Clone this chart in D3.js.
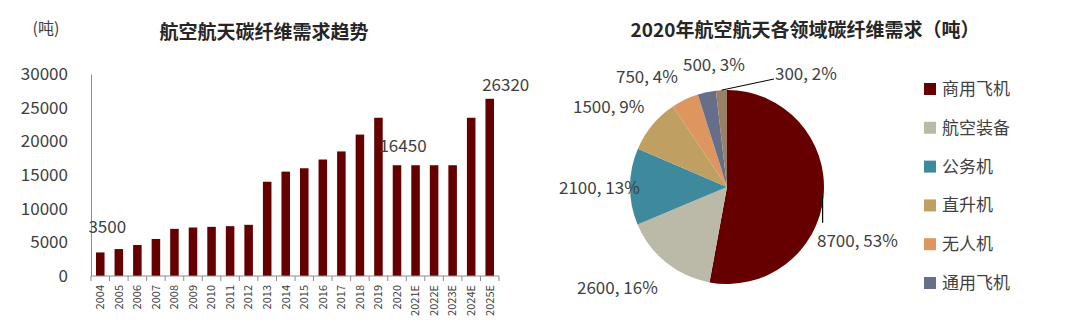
<!DOCTYPE html>
<html>
<head>
<meta charset="utf-8">
<script src="https://cdn.jsdelivr.net/npm/d3@7/dist/d3.min.js"></script>
<style>
  html, body { margin: 0; padding: 0; background: #fff; }
  svg { display: block; font-family: "Noto Sans CJK SC", "Noto Sans", sans-serif; }
</style>
</head>
<body>
<svg id="chart" width="1080" height="335"></svg>
<script>
// ---- Bar chart data: aerospace carbon-fibre demand (tonnes) ----
const years = ["2004","2005","2006","2007","2008","2009","2010","2011","2012","2013","2014",
               "2015","2016","2017","2018","2019","2020","2021E","2022E","2023E","2024E","2025E"];
const demand = [3500, 4000, 4600, 5500, 7000, 7200, 7300, 7400, 7600, 14000, 15500,
                16000, 17300, 18500, 21000, 23500, 16450, 16450, 16450, 16450, 23500, 26320];
const yTicks = [0, 5000, 10000, 15000, 20000, 25000, 30000];
const labelledYears = ["2004", "2020", "2025E"];

// ---- Pie chart data: 2020 demand by segment (tonnes) ----
const segments = ["商用飞机", "航空装备", "公务机", "直升机", "无人机", "通用飞机", "其他"];
const segmentValues = [8700, 2600, 2100, 1500, 750, 500, 300];
const segmentShares = [53, 16, 13, 9, 4, 3, 2];
const segmentColors = ["#660000", "#bbbaa8", "#3e8a9c", "#c0a062", "#dd9660", "#666e8a", "#9b8068"];
const legendCount = 6;

const svg = d3.select("#chart");
const textColor = "#404040";

// ================= Bar chart =================
const plot = { left: 91, right: 499, top: 74, bottom: 276 };

const x = d3.scaleBand()
  .domain(years)
  .range([plot.left, plot.right])
  .paddingInner(0.54)
  .paddingOuter(0.27);

const y = d3.scaleLinear()
  .domain([0, 30000])
  .range([plot.bottom, plot.top]);

svg.append("text")
  .attr("x", 46).attr("y", 28).attr("dy", "0.35em")
  .attr("text-anchor", "middle")
  .attr("font-size", 16).attr("fill", textColor)
  .text("(吨)");

svg.append("text")
  .attr("x", 264).attr("y", 32).attr("dy", "0.35em")
  .attr("text-anchor", "middle")
  .attr("font-size", 19).attr("font-weight", "bold").attr("fill", "#262626")
  .text("航空航天碳纤维需求趋势");

// y axis: line plus labels, no tick marks
const yAxis = svg.append("g")
  .attr("transform", `translate(${plot.left},0)`)
  .call(d3.axisLeft(y).tickValues(yTicks).tickSize(0).tickPadding(23).tickFormat(d3.format("d")));
yAxis.select(".domain").attr("stroke", "#8c8c8c");
yAxis.selectAll("text")
  .attr("font-size", 17).attr("fill", textColor)
  .style("font-family", "'Noto Sans CJK SC', sans-serif");

// bars
svg.append("g").selectAll("rect")
  .data(years)
  .join("rect")
  .attr("x", d => x(d))
  .attr("width", x.bandwidth())
  .attr("y", (d, i) => y(demand[i]))
  .attr("height", (d, i) => y(0) - y(demand[i]))
  .attr("fill", "#640000");

// x axis: baseline, boundary ticks and rotated year labels
const xAxis = svg.append("g").attr("transform", `translate(0,${plot.bottom})`);
xAxis.append("line")
  .attr("x1", plot.left).attr("x2", plot.right)
  .attr("stroke", "#8c8c8c");
xAxis.selectAll("line.tick")
  .data(d3.range(years.length + 1))
  .join("line")
  .attr("class", "tick")
  .attr("x1", i => plot.left + i * x.step())
  .attr("x2", i => plot.left + i * x.step())
  .attr("y1", 0).attr("y2", 5)
  .attr("stroke", "#8c8c8c");
xAxis.selectAll("text")
  .data(years)
  .join("text")
  .attr("transform", d => `translate(${x(d) + x.bandwidth() / 2},9) rotate(-90)`)
  .attr("text-anchor", "end")
  .attr("dy", "0.35em")
  .attr("font-size", 11)
  .attr("fill", textColor)
  .text(d => d);

// value labels on selected bars
const barLabelNudge = { "2004": [7, -25], "2020": [6, -19], "2025E": [16, -14] };
svg.append("g").selectAll("text")
  .data(labelledYears)
  .join("text")
  .attr("x", d => x(d) + x.bandwidth() / 2 + barLabelNudge[d][0])
  .attr("y", d => y(demand[years.indexOf(d)]) + barLabelNudge[d][1])
  .attr("dy", "0.35em")
  .attr("text-anchor", "middle")
  .attr("font-size", 17)
  .attr("fill", textColor)
  .text(d => demand[years.indexOf(d)]);

// ================= Pie chart =================
const cx = 727, cy = 187, r = 97;

svg.append("text")
  .attr("x", 805).attr("y", 30).attr("dy", "0.35em")
  .attr("text-anchor", "middle")
  .attr("font-size", 19).attr("font-weight", "bold").attr("fill", "#262626")
  .text("2020年航空航天各领域碳纤维需求（吨）");

const pie = d3.pie().sort(null).value(d => d)(segmentValues);
const arc = d3.arc().innerRadius(0).outerRadius(r);
const pieG = svg.append("g").attr("transform", `translate(${cx},${cy})`);

pieG.selectAll("path")
  .data(pie)
  .join("path")
  .attr("d", arc)
  .attr("fill", (d, i) => segmentColors[i]);

// point on the rim at a slice's mid angle
const rim = (d, rad) => {
  const a = (d.startAngle + d.endAngle) / 2;
  return [rad * Math.sin(a), -rad * Math.cos(a)];
};

// label offsets from the pie centre (text is left-anchored at these points)
const pieLabelPos = [[90, 54], [-150, 101], [-168, 1], [-154, -80], [-111, -110], [-44, -122], [48, -113]];

pieG.selectAll("text")
  .data(pie)
  .join("text")
  .attr("x", (d, i) => pieLabelPos[i][0])
  .attr("y", (d, i) => pieLabelPos[i][1])
  .attr("dy", "0.35em")
  .attr("font-size", 17)
  .attr("fill", textColor)
  .text((d, i) => `${d.value}, ${segmentShares[i]}%`);

// leader lines for the largest and smallest slices
const p0 = rim(pie[0], r);
pieG.append("line")
  .attr("x1", p0[0] - 1).attr("y1", p0[1])
  .attr("x2", p0[0] - 1).attr("y2", p0[1] + 27)
  .attr("stroke", "#000").attr("stroke-width", 1.2);
const p6 = rim(pie[6], r);
pieG.append("line")
  .attr("x1", p6[0]).attr("y1", p6[1])
  .attr("x2", pieLabelPos[6][0] - 1).attr("y2", pieLabelPos[6][1] + 5)
  .attr("stroke", "#000").attr("stroke-width", 1);

// legend
const legend = svg.append("g").selectAll("g")
  .data(segments.slice(0, legendCount))
  .join("g")
  .attr("transform", (d, i) => `translate(924,${89 + i * 38.8})`);
legend.append("rect")
  .attr("x", 0).attr("y", -6)
  .attr("width", 12).attr("height", 12)
  .attr("fill", (d, i) => segmentColors[i]);
legend.append("text")
  .attr("x", 18).attr("y", 0).attr("dy", "0.35em")
  .attr("font-size", 17)
  .attr("fill", textColor)
  .text(d => d);
</script>
</body>
</html>
